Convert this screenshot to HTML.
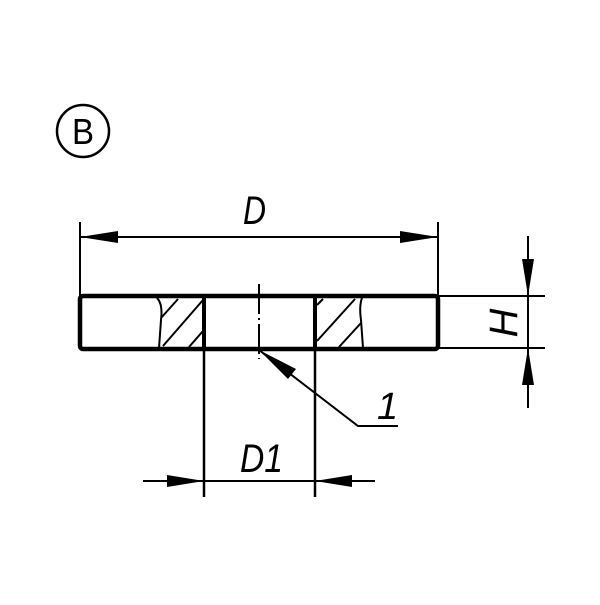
<!DOCTYPE html>
<html><head><style>body{margin:0;background:#fff}</style></head><body>
<svg width="600" height="600" viewBox="0 0 600 600" xmlns="http://www.w3.org/2000/svg">
<g fill="none" stroke="#000">
<circle cx="83" cy="131" r="26" stroke-width="2.5"/>
<rect x="80" y="296" width="358" height="53" rx="3" stroke-width="4.5"/>
<line x1="204" y1="296" x2="204" y2="497" stroke-width="2.5"/>
<line x1="315" y1="296" x2="315" y2="497" stroke-width="2.5"/>
<line x1="204" y1="298" x2="204" y2="348" stroke-width="4"/>
<line x1="315" y1="298" x2="315" y2="348" stroke-width="4"/>
<line x1="259" y1="284" x2="259" y2="359" stroke-width="2" stroke-dasharray="30,4,2,4"/>
<path d="M157,298 Q163,304 161,320 L159,348" stroke-width="2"/>
<path d="M362,298 Q359,306 361,320 L363,348" stroke-width="2"/>
<g stroke-width="2">
<line x1="161" y1="318" x2="178" y2="299"/>
<line x1="163" y1="346" x2="203" y2="300"/>
<line x1="189" y1="347" x2="203" y2="331"/>
<line x1="317" y1="305" x2="323" y2="299"/>
<line x1="317" y1="341" x2="355" y2="299"/>
<line x1="339" y1="347" x2="361" y2="323"/>
</g>
<line x1="80" y1="222" x2="80" y2="296" stroke-width="2"/>
<line x1="438" y1="222" x2="438" y2="296" stroke-width="2"/>
<line x1="80" y1="237" x2="438" y2="237" stroke-width="2"/>
<line x1="438" y1="296" x2="545" y2="296" stroke-width="2"/>
<line x1="438" y1="348" x2="545" y2="348" stroke-width="2"/>
<line x1="528" y1="236" x2="528" y2="408" stroke-width="2"/>
<line x1="143" y1="481" x2="375" y2="481" stroke-width="2"/>
<polyline points="259,350 358,426 398,426" stroke-width="2"/>
</g>
<g fill="#000">
<polygon points="80,237 118,231 118,243"/>
<polygon points="438,237 400,231 400,243"/>
<polygon points="528,296 522,259 534,259"/>
<polygon points="528,348 522,385 534,385"/>
<polygon points="204,481 167,475 167,487"/>
<polygon points="315,481 352,475 352,487"/>
<polygon points="259,350 296,369 288,379"/>
</g>
<g font-family="Liberation Sans, sans-serif" font-style="italic" font-size="40" fill="#000">
<text x="243" y="224" textLength="23" lengthAdjust="spacingAndGlyphs">D</text>
<text x="240" y="472" textLength="43" lengthAdjust="spacingAndGlyphs">D1</text>
<text x="377" y="419" font-size="38">1</text>
<text transform="translate(517,323) rotate(-90)" text-anchor="middle">H</text>
</g>
<text x="72" y="144" font-family="Liberation Sans, sans-serif" font-size="36" textLength="22" lengthAdjust="spacingAndGlyphs">B</text>
</svg>
</body></html>
